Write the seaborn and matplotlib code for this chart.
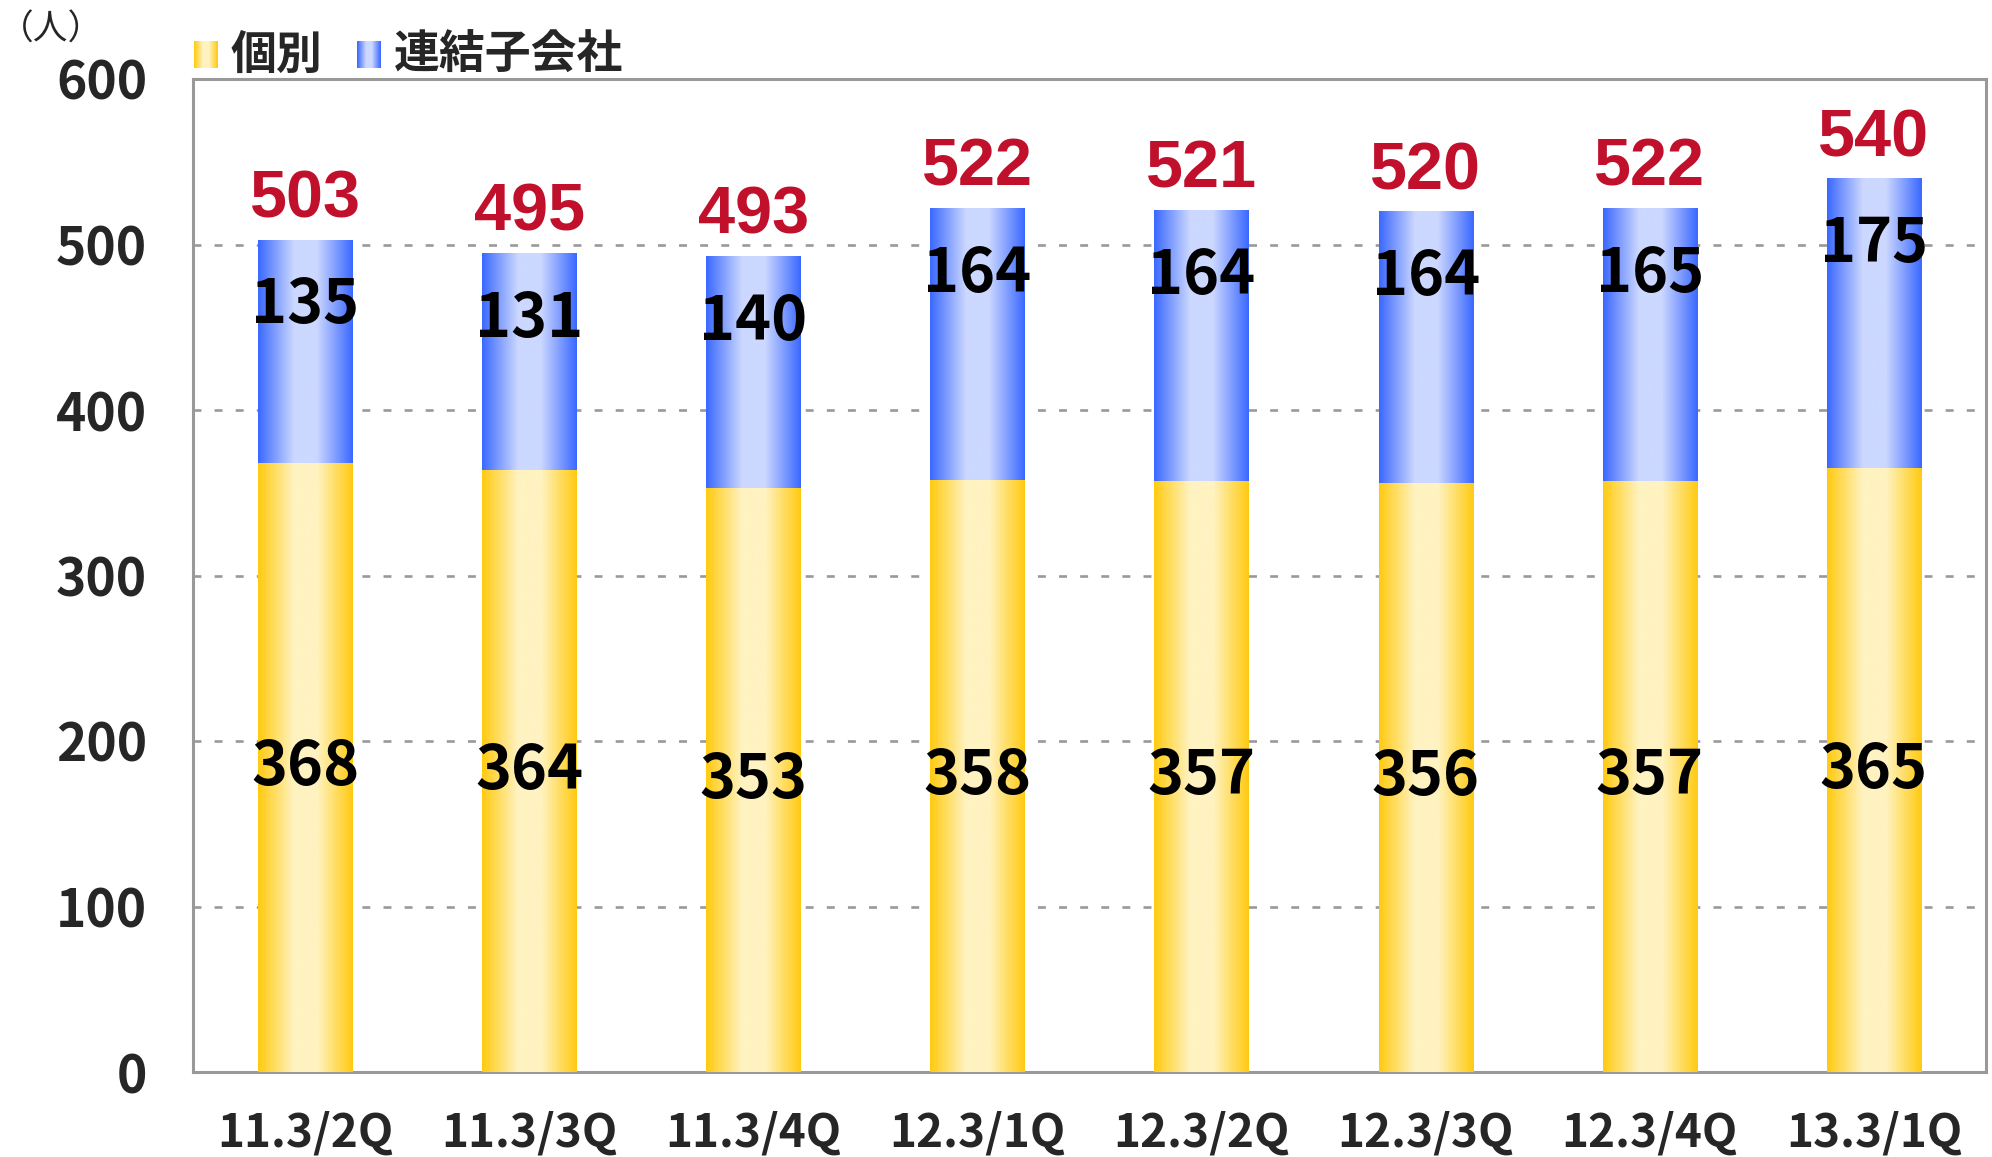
import numpy as np
import pandas as pd
import seaborn as sns
import matplotlib.pyplot as plt
from matplotlib.colors import LinearSegmentedColormap

# data
quarters = ['11.3/2Q', '11.3/3Q', '11.3/4Q', '12.3/1Q', '12.3/2Q', '12.3/3Q', '12.3/4Q', '13.3/1Q']
kobetsu = [368, 364, 353, 358, 357, 356, 357, 365]       # 個別
renketsu = [135, 131, 140, 164, 164, 164, 165, 175]      # 連結子会社
totals = [503, 495, 493, 522, 521, 520, 522, 540]
yticks = [0, 100, 200, 300, 400, 500, 600]

sns.set_style('white')
plt.rcParams['font.family'] = ['Noto Sans CJK JP', 'DejaVu Sans']

df = pd.DataFrame({'quarter': quarters, 'kobetsu': kobetsu,
                   'renketsu': renketsu, 'total': totals})

yellow_cmap = LinearSegmentedColormap.from_list(
    'yel', [(0, '#FFCA10'), (0.38, '#FFF3C2'), (0.62, '#FFF3C2'), (1, '#FFCA10')])
blue_cmap = LinearSegmentedColormap.from_list(
    'blu', [(0, '#3A68FF'), (0.38, '#CCD8FF'), (0.62, '#CCD8FF'), (1, '#3A68FF')])


def fill_gradient(ax, patch, cmap, z):
    x0, y0 = patch.get_x(), patch.get_y()
    w, h = patch.get_width(), patch.get_height()
    grad = np.linspace(0, 1, 256).reshape(1, -1)
    im = ax.imshow(grad, cmap=cmap, extent=(x0, x0 + w, y0, y0 + h),
                   aspect='auto', zorder=z, interpolation='bicubic')
    im.set_clip_path(patch)
    patch.set_facecolor('none')
    patch.set_edgecolor('none')


fig = plt.figure(figsize=(19.92, 11.57), dpi=100)
ax = fig.add_axes([193 / 1992, 1 - 1072 / 1157, (1986 - 193) / 1992, (1072 - 79) / 1157])

# stacked bars: total (blue) with 個別 (yellow) drawn over it
sns.barplot(data=df, x='quarter', y='total', color='#3A68FF', width=0.42, ax=ax, zorder=2)
sns.barplot(data=df, x='quarter', y='kobetsu', color='#FFCA10', width=0.42, ax=ax, zorder=3)

patches = list(ax.patches)
for p in patches[:8]:
    fill_gradient(ax, p, blue_cmap, 2.1)
for p in patches[8:]:
    fill_gradient(ax, p, yellow_cmap, 3.1)

ax.set_xlim(-0.5, 7.5)
ax.set_ylim(0, 600)
ax.set_yticks(yticks)
ax.set_xlabel('')
ax.set_ylabel('')

ax.yaxis.grid(True, color='#999999', linestyle=(0, (3, 5)), linewidth=1.9)
ax.set_axisbelow(True)
for s in ax.spines.values():
    s.set_color('#999999')
    s.set_linewidth(2.2)
    s.set_visible(True)

ax.tick_params(axis='y', length=0, pad=33, labelsize=37)
ax.tick_params(axis='x', which='major', length=0, pad=28, labelsize=33)
ax.set_xticks(np.arange(0.5, 7.5, 1), minor=True)
ax.tick_params(axis='x', which='minor', direction='in', length=13, width=2.2, color='#999999')
for lab in ax.get_xticklabels() + ax.get_yticklabels():
    lab.set_fontweight('bold')

# value labels
for i in range(len(quarters)):
    ax.text(i, kobetsu[i] / 2, str(kobetsu[i]), ha='center', va='center',
            fontsize=44, fontweight='bold', color='black', zorder=5)
    ax.text(i, totals[i] - 40, str(renketsu[i]), ha='center', va='center',
            fontsize=44, fontweight='bold', color='black', zorder=5)
    ax.annotate(str(totals[i]), (i, totals[i]), xytext=(0, 16), textcoords='offset points',
                ha='center', va='baseline', fontsize=48, fontweight='bold',
                color='#C0102C', family='Liberation Sans', zorder=5)

# unit label
fig.text(51 / 1992, 1 - 30 / 1157, '（人）', fontsize=25, ha='center', va='center')

# legend with gradient squares
def legend_square(x, cmap):
    lax = fig.add_axes([x / 1992, 1 - 68 / 1157, 24 / 1992, 27 / 1157])
    lax.imshow(np.linspace(0, 1, 64).reshape(1, -1), cmap=cmap, aspect='auto')
    lax.set_axis_off()

legend_square(194, yellow_cmap)
fig.text(231 / 1992, 1 - 56 / 1157, '個別', fontsize=33, fontweight='bold', ha='left', va='center')
legend_square(357, blue_cmap)
fig.text(394 / 1992, 1 - 56 / 1157, '連結子会社', fontsize=33, fontweight='bold', ha='left', va='center')

fig.savefig('out.png', dpi=100)
